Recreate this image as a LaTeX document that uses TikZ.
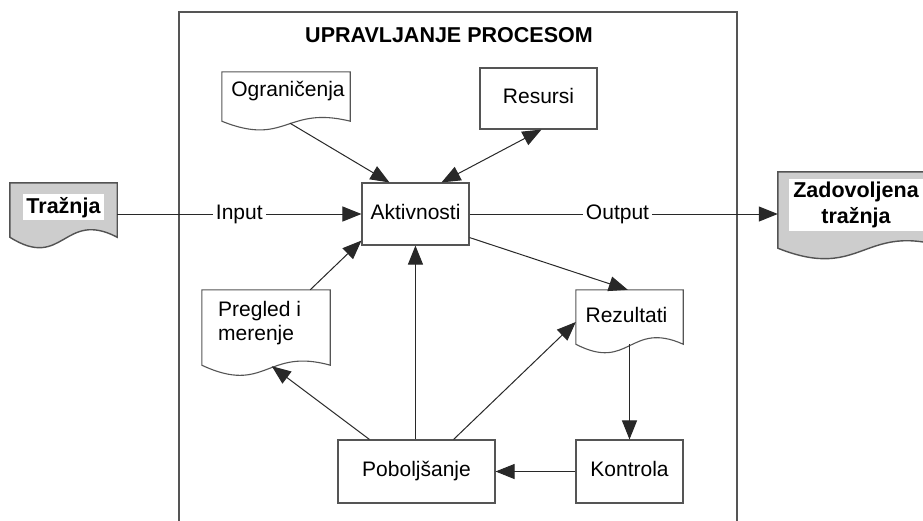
\documentclass[tikz,border=0pt]{standalone}
\usepackage{fontspec}
\setmainfont{Liberation Sans}
\usetikzlibrary{arrows.meta,calc}

\definecolor{ink}{RGB}{40,40,40}
\definecolor{edge}{RGB}{85,85,85}
\definecolor{docgray}{RGB}{205,205,205}

\newcommand\txtsize{\fontsize{21}{24}\selectfont}
\newcommand\boldsize{\fontsize{21.5}{26}\selectfont\bfseries}

% Document shape: straight top and sides, S-shaped wavy bottom.
% #1 node, #2 style, #3 dip near the left, #4 rise near the right
\newcommand\docoutline[4]{%
  \draw[#2] (#1.south west) -- (#1.north west) -- (#1.north east) -- (#1.south east)
    .. controls ($(#1.south)+(0,-#4)$) and ($(#1.south)+(0,#3)$) .. (#1.south west) -- cycle;}

\tikzset{
  box/.style={draw=edge, line width=1.1pt, fill=white, inner sep=0pt,
    font=\txtsize, text height=15pt, text depth=4.5pt},
  docarea/.style={inner sep=0pt, draw=none},
  docwhite/.style={draw=edge, line width=1.1pt, fill=white},
  docshade/.style={draw=ink!80, line width=1.4pt, fill=docgray},
  lbl/.style={font=\txtsize, inner sep=0pt, anchor=base},
  conn/.style={draw=ink, line width=1pt, -{Triangle[length=19pt,width=15pt]}},
  both/.style={draw=ink, line width=1pt, {Triangle[length=19pt,width=15pt]}-{Triangle[length=19pt,width=15pt]}},
  onwire/.style={font=\txtsize, fill=white, inner xsep=3pt, inner ysep=1pt}
}

\begin{document}
\begin{tikzpicture}[x=1pt,y=-1pt]
\useasboundingbox (0,0) rectangle (923,520);
\clip (0,0) rectangle (923,520);
\fill[white] (0,0) rectangle (923,520);

% process frame and its heading
\draw[edge, line width=1.1pt] (179,12) rectangle (737,545);
\node[font=\boldsize, inner sep=0pt, anchor=base] (title) at (449,42.5) {UPRAVLJANJE PROCESOM};

% rectangular steps
\node[box, minimum width=107pt, minimum height=62pt] (akt) at (415.5,214) {Aktivnosti};
\node[box, minimum width=117pt, minimum height=61pt] (res) at (538.5,98.5) {Resursi};
\node[box, minimum width=107pt, minimum height=63pt] (kon) at (629.5,471.5) {Kontrola};
\node[box, minimum width=157pt, minimum height=63pt] (pob) at (416.5,471.5) {Poboljšanje};

% documents
\node[docarea, minimum width=128pt, minimum height=49pt] (ogr) at (286,96.5) {};
\docoutline{ogr}{docwhite}{26}{16}
\node[lbl] (ogrt) at (288,96) {Ograničenja};

\node[docarea, minimum width=128pt, minimum height=75pt] (preg) at (266,327.5) {};
\docoutline{preg}{docwhite}{30}{18}
\node[font=\txtsize, inner sep=0pt, anchor=north west, align=left] (pregt) at (218,301) {Pregled i\\merenje};

\node[docarea, minimum width=107pt, minimum height=54pt] (rez) at (629.5,317) {};
\docoutline{rez}{docwhite}{28}{24}
\node[lbl] (rezt) at (626.5,322) {Rezultati};

\node[docarea, minimum width=107pt, minimum height=54pt] (trz) at (63.5,210) {};
\docoutline{trz}{docshade}{34}{28}
\node[lbl, font=\boldsize, fill=white, inner xsep=3pt, inner ysep=3pt] (trzt) at (63.5,213) {Tražnja};

\node[docarea, minimum width=170pt, minimum height=76pt] (zad) at (863,210) {};
\docoutline{zad}{docshade}{34}{28}
\node[font=\boldsize, fill=white, inner xsep=4pt, inner ysep=3pt, align=center] (zadt) at (856,205) {Zadovoljena\\tražnja};

% flows
\draw[conn] (akt.west -| trz.east) -- node[onwire, pos=0.5] (inp) {Input} (akt.west);
\draw[conn] (akt.east) -- node[onwire, pos=0.48] (outp) {Output} (akt.east -| zad.west);

\coordinate (pobtop) at ($(pob.north west)+(78,0)$);
\draw[conn] ($(ogr.south)+(4,2)$) -- ($(akt.north west)+(28,0)$);
\draw[both] ($(res.south)+(3,0)$) -- ($(akt.north west)+(80,0)$);
\draw[conn] ($(preg.north east)+(-20,0)$) -- ($(akt.south west)+(0,-5)$);
\draw[conn] (pobtop) -- (pobtop |- akt.south);
\draw[conn] ($(pob.north west)+(32,0)$) -- ($(preg.south west)+(70,1)$);
\draw[conn] ($(pob.north east)+(-42,0)$) -- ($(rez.west)+(0,5)$);
\draw[conn] ($(akt.south east)+(0,-8)$) -- ($(rez.north west)+(52,0)$);
\draw[conn] (rez.south) -- (kon.north);
\draw[conn] (kon.west) -- (pob.east);
\end{tikzpicture}
\end{document}
